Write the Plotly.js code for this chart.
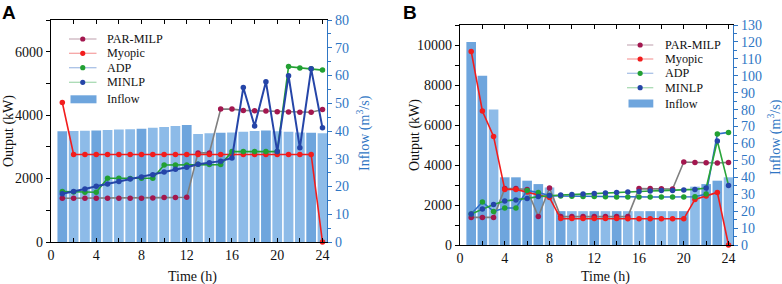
<!DOCTYPE html>
<html>
<head>
<meta charset="utf-8">
<script src="https://cdn.plot.ly/plotly-3.0.1.min.js"></script>
<style>html,body{margin:0;padding:0;background:#fff;}#chart{width:782px;height:284px;}</style>
</head>
<body>
<div id="chart"></div>
<script>
// ---------- data ----------
const hours = [1,2,3,4,5,6,7,8,9,10,11,12,13,14,15,16,17,18,19,20,21,22,23,24];

// Panel A
const inflowA = [39.9,40.0,40.1,40.2,40.4,40.5,40.6,40.8,41.2,41.4,41.8,42.2,38.9,39.2,39.4,39.5,39.7,40.0,40.2,39.9,39.7,39.5,39.4,39.2];
const parMilpA = [1380,1380,1380,1380,1380,1380,1380,1380,1390,1400,1405,1410,2810,2810,4190,4190,4150,4140,4130,4110,4100,4090,4090,4180];
const myopicA = [4400,2760,2760,2760,2760,2760,2760,2760,2760,2760,2760,2760,2760,2760,2760,2760,2760,2760,2760,2760,2760,2760,2760,0];
const adpA = [1590,1580,1570,1570,2010,2010,2000,2010,2010,2430,2430,2430,2450,2440,2440,2850,2850,2850,2850,2850,5530,5490,5460,5420];
const minlpA = [1520,1590,1670,1755,1830,1910,1990,2050,2120,2210,2290,2355,2450,2500,2550,2650,4870,3660,5055,2850,5245,2970,5460,3600];

// Panel B
const inflowB = [120,100,80,40,40,38,36,34,20,20,20,20,20,20,20,20,20,20,20,20,34.5,36,38,40];
const parMilpB = [1380,1380,1380,2820,2820,2780,1420,2850,1420,1420,1420,1420,1420,1420,1420,2820,2820,2810,2800,4150,4120,4110,4100,4130];
const myopicB = [9680,6700,5430,2780,2780,2650,2520,2370,1320,1320,1320,1320,1320,1320,1310,1310,1310,1310,1310,1310,2280,2450,2630,0];
const adpB = [1550,2150,1680,1850,1850,2730,2620,2470,2450,2440,2430,2420,2410,2400,2400,2400,2400,2400,2400,2400,2410,2550,5550,5630];
const minlpB = [1550,1800,2030,2200,2250,2330,2420,2470,2500,2520,2550,2570,2600,2620,2650,2680,2700,2720,2730,2750,2780,2850,5200,2980];

const seriesNames = ['PAR-MILP','Myopic','ADP','MINLP','Inflow'];
const xTickVals = [0,4,8,12,16,20,24];
const titleTime = 'Time (h)', titleOutput = 'Output (kW)', titleInflow = 'Inflow (m<sup>3</sup>/s)';

// ---------- style ----------
const W = 782, H = 284;
const FONT = "'Liberation Serif', 'Times New Roman', Times, serif";
const SANS = "'Liberation Sans', Arial, sans-serif";
const AXBLUE = '#2f76c4';
const DARKBAR = '#6ea5dd', LIGHTBAR = '#8dbbe8';
const shadeA = [0,1,1,0,1,1,1,0,1,1,1,0,1,1,0,1,1,1,0,1,1,1,0,1];
const shadeB = [0,0,1,0,0,0,0,1,0,1,1,0,1,0,1,1,0,1,1,0,1,0,0,1];
const C = {
  par: {line:'#7f7f7f', mk:'#a3174f', leg:'#cdb3bf'},
  myo: {line:'#f21d1d', mk:'#f21d1d', leg:'#f6a5a5'},
  adp: {line:'#22a033', mk:'#22a033', leg:'#a9c1e6'},
  min: {line:'#2545a8', mk:'#2545a8', leg:'#a9dbb4'}
};

const px = x => x / W;
const py = y => 1 - y / H;

function line(x, y, xa, ya, col, mk, w) {
  return {x: x, y: y, xaxis: xa, yaxis: ya, type: 'scatter', mode: 'lines+markers',
    line: {color: col, width: w || 1.6}, marker: {color: mk, size: 5.5},
    showlegend: false, hoverinfo: 'skip', cliponaxis: false};
}
function bars(x, y, xa, ya, shade) {
  return {x: x, y: y, xaxis: xa, yaxis: ya, type: 'bar', width: 0.86,
    marker: {color: shade.map(s => s ? LIGHTBAR : DARKBAR), line: {width: 0}},
    showlegend: false, hoverinfo: 'skip'};
}

const traces = [
  bars(hours, inflowA, 'x', 'y', shadeA),
  line(hours, parMilpA, 'x', 'y2', C.par.line, C.par.mk),
  line(hours, myopicA, 'x', 'y2', C.myo.line, C.myo.mk),
  line(hours, adpA, 'x', 'y2', C.adp.line, C.adp.mk),
  line(hours, minlpA, 'x', 'y2', C.min.line, C.min.mk, 2),
  bars(hours, inflowB, 'x2', 'y3', shadeB),
  line(hours, parMilpB, 'x2', 'y4', C.par.line, C.par.mk),
  line(hours, myopicB, 'x2', 'y4', C.myo.line, C.myo.mk),
  line(hours, adpB, 'x2', 'y4', '#2f6fc8', C.adp.mk),
  line(hours, minlpB, 'x2', 'y4', '#2aa53a', C.min.mk)
];

const tickFont = {family: FONT, size: 14, color: '#111'};
const blueFont = {family: FONT, size: 14, color: AXBLUE};

function xAxis(domain, anchor) {
  return {domain: domain, anchor: anchor, range: [0, 24.4], tickvals: xTickVals,
    ticks: 'inside', ticklen: 4, tickcolor: '#000', showline: true, linecolor: '#000', linewidth: 1.2,
    mirror: 'ticks', showgrid: false, zeroline: false, tickfont: tickFont,
    minor: {dtick: 2, tick0: 0, ticks: 'inside', ticklen: 4, tickcolor: '#000'},
    automargin: false};
}
function inflowAxis(domain, anchor, max) {
  return {domain: domain, anchor: anchor, side: 'right', range: [0, max], dtick: 10,
    ticks: 'outside', ticklen: 4, tickcolor: AXBLUE, showline: true, linecolor: AXBLUE, linewidth: 1.2,
    showgrid: false, zeroline: false, tickfont: blueFont,
    minor: {dtick: 5, ticks: 'outside', ticklen: 3, tickcolor: AXBLUE},
    automargin: false};
}
function outputAxis(over, anchor, max) {
  return {overlaying: over, anchor: anchor, side: 'left', range: [0, max], dtick: 2000, tickformat: 'd',
    ticks: 'outside', ticklen: 4, tickcolor: '#000', showline: true, linecolor: '#000', linewidth: 1.2,
    showgrid: false, zeroline: false, tickfont: tickFont,
    minor: {dtick: 1000, ticks: 'outside', ticklen: 4, tickcolor: '#000'},
    automargin: false};
}

const shapes = [], annotations = [];
function label(text, x, y, angle, color) {
  annotations.push({xref: 'paper', yref: 'paper', x: px(x), y: py(y), xanchor: 'center', yanchor: 'middle',
    text: text, textangle: angle, showarrow: false, font: {family: FONT, size: 14, color: color}});
}
// axis titles
label(titleTime, 192, 277, 0, '#111');
label(titleTime, 605, 277, 0, '#111');
label(titleOutput, 9, 131, -90, '#111');
label(titleOutput, 415, 135, -90, '#111');
label(titleInflow, 364, 133, -90, AXBLUE);
label(titleInflow, 774, 137, -90, AXBLUE);

// manual legends (pixel positions)
function legend(x0, x1, tx, ys, legCols, mkCols) {
  for (let i = 0; i < 4; i++) {
    const y = ys[i];
    shapes.push({type: 'line', xref: 'paper', yref: 'paper', x0: px(x0), x1: px(x1), y0: py(y), y1: py(y),
      line: {color: legCols[i], width: 1.3}});
    const xm = (x0 + x1) / 2;
    shapes.push({type: 'circle', xref: 'paper', yref: 'paper', x0: px(xm - 2.6), x1: px(xm + 2.6),
      y0: py(y + 2.6), y1: py(y - 2.6), fillcolor: mkCols[i], line: {width: 0}});
    annotations.push({xref: 'paper', yref: 'paper', x: px(tx), y: py(y), xanchor: 'left', yanchor: 'middle',
      text: seriesNames[i], showarrow: false, font: {family: FONT, size: 12.2, color: '#111'}});
  }
  const y = ys[4];
  shapes.push({type: 'rect', xref: 'paper', yref: 'paper', x0: px(x0 + 1.5), x1: px(x1), y0: py(y + 4), y1: py(y - 4),
    fillcolor: DARKBAR, line: {width: 0}});
  annotations.push({xref: 'paper', yref: 'paper', x: px(tx), y: py(y), xanchor: 'left', yanchor: 'middle',
    text: seriesNames[4], showarrow: false, font: {family: FONT, size: 12.2, color: '#111'}});
}
const legLines = [C.par.leg, C.myo.leg, C.adp.leg, C.min.leg];
const legMk = [C.par.mk, C.myo.mk, C.adp.mk, C.min.mk];
legend(69, 96.5, 105, [39, 53.3, 67.7, 82.3, 99.3], legLines, legMk);
legend(627, 653.3, 663, [45, 59, 73.3, 87.7, 103.5], legLines, legMk);

annotations.push({xref: 'paper', yref: 'paper', x: px(0), y: py(0), xanchor: 'left', yanchor: 'top',
  text: '<b>A</b>', showarrow: false, font: {family: SANS, size: 19, color: '#000'}});
annotations.push({xref: 'paper', yref: 'paper', x: px(401), y: py(0), xanchor: 'left', yanchor: 'top',
  text: '<b>B</b>', showarrow: false, font: {family: SANS, size: 19, color: '#000'}});

const layout = {
  width: W, height: H, margin: {l: 0, r: 0, t: 0, b: 0},
  paper_bgcolor: '#fff', plot_bgcolor: 'rgba(0,0,0,0)',
  showlegend: false, bargap: 0.1,
  font: {family: FONT},
  xaxis: xAxis([px(51), px(327)], 'y'),
  yaxis: inflowAxis([py(242), py(20)], 'x', 80),
  yaxis2: outputAxis('y', 'x', 7000),
  xaxis2: xAxis([px(460), px(733)], 'y3'),
  yaxis3: inflowAxis([py(245), py(25)], 'x2', 130),
  yaxis4: outputAxis('y3', 'x2', 11000),
  shapes: shapes, annotations: annotations
};

Plotly.newPlot('chart', traces, layout, {staticPlot: true, displayModeBar: false});
</script>
</body>
</html>
